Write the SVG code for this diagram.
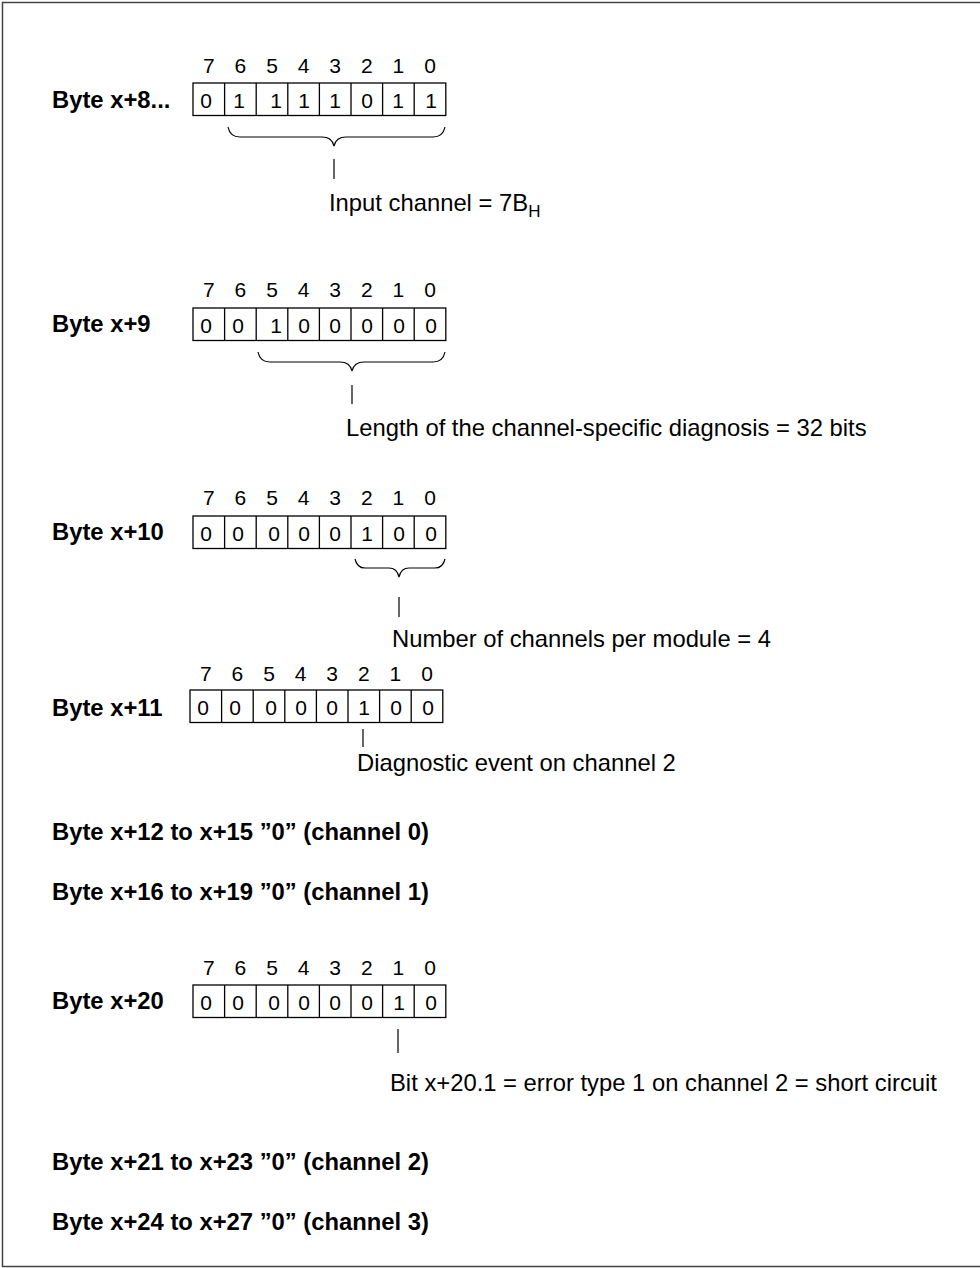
<svg xmlns="http://www.w3.org/2000/svg" width="980" height="1268" viewBox="0 0 980 1268">
<style>
.lbl{font-family:"Liberation Sans",Arial,sans-serif;font-weight:bold;font-size:23.8px;fill:#000}
.txt{font-family:"Liberation Sans",Arial,sans-serif;font-size:23.8px;fill:#000}
.num{font-family:"Liberation Sans",Arial,sans-serif;font-size:21px;fill:#000;text-anchor:middle}
.box{fill:none;stroke:#000;stroke-width:1.3}
.ln{fill:none;stroke:#000;stroke-width:1.2}
</style>
<defs>
<g id="bits">
<text class="num" x="15.8" y="0">7</text>
<text class="num" x="47.4" y="0">6</text>
<text class="num" x="79" y="0">5</text>
<text class="num" x="110.6" y="0">4</text>
<text class="num" x="142.2" y="0">3</text>
<text class="num" x="173.8" y="0">2</text>
<text class="num" x="205.4" y="0">1</text>
<text class="num" x="237" y="0">0</text>
</g>
<g id="cells">
<rect class="box" x="0" y="0" width="252.8" height="32.5"/>
<path class="box" d="M31.6,0V32.5M63.2,0V32.5M94.8,0V32.5M126.4,0V32.5M158,0V32.5M189.6,0V32.5M221.2,0V32.5"/>
</g>
</defs>
<rect x="2.5" y="2.5" width="990" height="1264" fill="#fff" stroke="#444" stroke-width="1.5"/>

<g id="byte8">
<text class="lbl" x="52" y="108">Byte x+8...</text>
<use href="#bits" x="193" y="73"/>
<use href="#cells" x="193" y="83"/>
<g transform="translate(193,108)">
<text class="num" x="13">0</text><text class="num" x="46">1</text><text class="num" x="83">1</text><text class="num" x="111">1</text><text class="num" x="142">1</text><text class="num" x="174">0</text><text class="num" x="205">1</text><text class="num" x="238">1</text>
</g>
</g>

<g id="byte9">
<text class="lbl" x="52" y="332">Byte x+9</text>
<use href="#bits" x="193" y="297"/>
<use href="#cells" x="193" y="308"/>
<g transform="translate(193,333)">
<text class="num" x="13">0</text><text class="num" x="45">0</text><text class="num" x="83">1</text><text class="num" x="111">0</text><text class="num" x="142">0</text><text class="num" x="174">0</text><text class="num" x="206">0</text><text class="num" x="238">0</text>
</g>
</g>

<g id="byte10">
<text class="lbl" x="52" y="540">Byte x+10</text>
<use href="#bits" x="193" y="505"/>
<use href="#cells" x="193" y="516"/>
<g transform="translate(193,541)">
<text class="num" x="13">0</text><text class="num" x="45">0</text><text class="num" x="81">0</text><text class="num" x="111">0</text><text class="num" x="142">0</text><text class="num" x="174">1</text><text class="num" x="206">0</text><text class="num" x="238">0</text>
</g>
</g>

<g id="byte11">
<text class="lbl" x="52" y="716">Byte x+11</text>
<use href="#bits" x="190" y="681"/>
<use href="#cells" x="190" y="690"/>
<g transform="translate(190,715)">
<text class="num" x="13">0</text><text class="num" x="45">0</text><text class="num" x="81">0</text><text class="num" x="111">0</text><text class="num" x="142">0</text><text class="num" x="174">1</text><text class="num" x="206">0</text><text class="num" x="238">0</text>
</g>
</g>

<g id="byte20">
<text class="lbl" x="52" y="1009">Byte x+20</text>
<use href="#bits" x="193" y="975"/>
<use href="#cells" x="193" y="985"/>
<g transform="translate(193,1010)">
<text class="num" x="13">0</text><text class="num" x="45">0</text><text class="num" x="81">0</text><text class="num" x="111">0</text><text class="num" x="142">0</text><text class="num" x="174">0</text><text class="num" x="206">1</text><text class="num" x="238">0</text>
</g>
</g>

<g id="connectors">
<path class="ln" d="M228,127 Q230,137 240,137 L322,137 Q332,137 334,146 Q336,137 346,137 L433,137 Q443,137 445,127"/>
<path class="ln" d="M334,159 V179"/>
<path class="ln" d="M258,352 Q260,362 270,362 L340,362 Q350,362 352,371 Q354,362 364,362 L433,362 Q443,362 445,352"/>
<path class="ln" d="M352,385 V404"/>
<path class="ln" d="M355,559 Q357,568 365,568 L389,568 Q397,568 399,577 Q401,568 409,568 L435,568 Q443,568 445,559"/>
<path class="ln" d="M399,597 V617"/>
<path class="ln" d="M363,729 V747"/>
<path class="ln" d="M398,1029 V1053"/>
</g>

<g id="labels">
<text class="txt" x="329" y="211">Input channel = 7B<tspan dy="6" font-size="17px">H</tspan></text>
<text class="txt" x="346" y="436">Length of the channel-specific diagnosis = 32 bits</text>
<text class="txt" x="392" y="647">Number of channels per module = 4</text>
<text class="txt" x="357" y="771">Diagnostic event on channel 2</text>
<text class="txt" x="390" y="1091">Bit x+20.1 = error type 1 on channel 2 = short circuit</text>
</g>

<g id="ranges">
<text class="lbl" x="52" y="840">Byte x+12 to x+15 ”0” (channel 0)</text>
<text class="lbl" x="52" y="900">Byte x+16 to x+19 ”0” (channel 1)</text>
<text class="lbl" x="52" y="1170">Byte x+21 to x+23 ”0” (channel 2)</text>
<text class="lbl" x="52" y="1230">Byte x+24 to x+27 ”0” (channel 3)</text>
</g>
</svg>
